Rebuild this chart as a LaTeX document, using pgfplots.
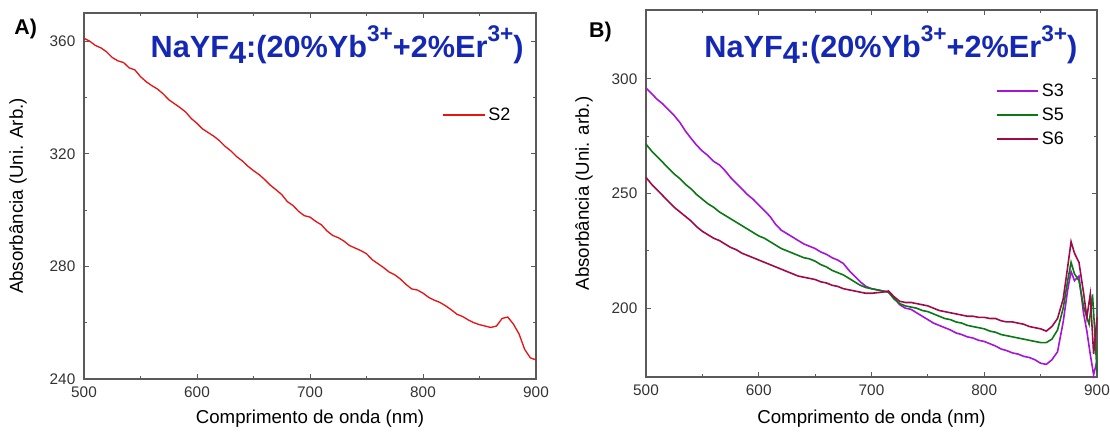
\documentclass[border=0pt]{standalone}
\usepackage{fontspec}
\setmainfont{Liberation Sans}
\usepackage{pgfplots}
\pgfplotsset{compat=1.18}
\usepackage{pgfplotstable}
\definecolor{cS2}{RGB}{230,20,20}
\definecolor{cS3}{RGB}{165,20,215}
\definecolor{cS5}{RGB}{10,120,20}
\definecolor{cS6}{RGB}{160,10,75}
\definecolor{ttl}{RGB}{20,40,180}
\definecolor{axgray}{RGB}{90,90,90}
\newcommand{\ttltext}{\fontsize{23}{26}\selectfont\bfseries NaYF\raisebox{-0.22em}{4}:(20\%Yb\raisebox{0.5em}{\fontsize{17}{17}\selectfont 3+}+2\%Er\raisebox{0.5em}{\fontsize{17}{17}\selectfont 3+})}

\pgfplotstableread{
x y
500 361.0
505 360.0
510 358.5
515 357.6
520 356.2
525 354.2
530 353.0
535 352.4
540 350.5
545 349.8
550 347.4
555 345.6
560 344.2
565 343.0
570 341.3
575 339.2
580 337.8
585 336.4
590 334.8
595 332.5
600 330.8
605 328.8
610 327.5
615 326.2
620 324.6
625 322.6
630 321.0
635 319.0
640 317.5
645 315.6
650 314.0
655 312.6
660 310.8
665 308.8
670 307.2
675 305.5
680 303.0
685 301.6
690 299.5
695 298.0
700 297.5
705 296.0
710 294.8
715 292.6
720 291.0
725 290.2
730 289.0
735 287.4
740 286.5
745 285.6
750 284.5
755 282.4
760 281.0
765 279.6
770 278.0
775 277.0
780 275.5
785 273.6
790 272.0
795 271.6
800 270.5
805 269.0
810 268.0
815 267.2
820 266.0
825 264.6
830 263.0
835 262.2
840 261.0
845 260.0
850 259.3
855 258.8
860 258.3
865 258.8
870 261.5
875 262.0
880 259.5
885 256.0
890 250.5
895 247.5
900 246.8
}\dataSII

\pgfplotstableread{
x y
500 296
505 293.5
510 291
515 289
520 286.5
525 284
530 281
535 277.2
540 274
545 271
550 268.5
555 266.5
560 264
565 262.5
570 260
575 257
580 254.5
585 252
590 249.5
595 247.5
600 245
605 242.5
610 240
615 236.5
620 234
625 232.5
630 231
635 229.5
640 228
645 227
650 226
655 224.5
660 223.5
665 222
670 221
675 219.5
680 216.5
685 214
690 211.5
695 209.5
700 208.5
705 208
710 207.5
715 207
720 204.5
725 201.5
730 200
735 199.5
740 198
745 196.5
750 195
755 193.5
760 192.5
765 191.5
770 190.5
775 189.2
780 188.5
785 187.5
790 187
795 186
800 185.5
805 184.5
810 183.5
815 182.2
820 181.5
825 180.5
830 180
835 179
840 178.5
845 177.5
850 176
855 175.5
860 177.5
865 181
870 194
874 208
877 216
880 212
884 214
888 198
891 190
894 180
897 171
900 177
}\dataSIII

\pgfplotstableread{
x y
500 271.5
505 268.5
510 266
515 263.5
520 261
525 258.5
530 256.5
535 254
540 252
545 249.5
550 247.5
555 245.5
560 244
565 242
570 240.5
575 239
580 237.5
585 236
590 234.5
595 233
600 231.5
605 230.5
610 229
615 227.5
620 226
625 225
630 224
635 223
640 222
645 221.5
650 220.5
655 219
660 218
665 216.5
670 215.5
675 214.5
680 213
685 211.5
690 210
695 209
700 208.5
710 207.5
715 207
720 204
725 202
730 201
735 200.5
740 200
745 199
750 198.5
755 197.5
760 196.5
765 195.5
770 195
775 194
780 193.5
785 192.5
790 192
795 191.5
800 191
805 190
810 189.5
815 188.5
820 188
825 187.5
830 187
835 186.5
840 186
845 185.5
850 185
855 185
860 186.5
865 190.5
870 200
874 212
877 220
880 215
884 212
888 201
891 196
893 193
896 206
898 190
900 172
}\dataSV

\pgfplotstableread{
x y
500 257
505 254
510 251.5
515 249
520 246.5
525 244
530 242
535 240
540 238
545 235.5
550 233.5
555 232
560 230.5
565 229.5
570 228
575 226.5
580 225.5
585 224
590 223
595 222
600 221
605 220
610 219
615 218
620 217
625 216
630 215
635 214
640 213.5
645 213
650 212.5
655 211.5
660 211
665 210
670 209.5
675 208.5
680 208
685 207.5
690 207
695 206.5
700 206.5
710 207
715 207.5
720 205
725 203
730 202.5
735 202.5
740 202
745 201.5
750 201
755 200
760 199
765 198.5
770 198
775 197.5
780 197
785 196.5
790 196.5
795 196
800 196
805 195.5
810 195.5
815 194.5
820 194
825 194
830 193.5
835 193
840 192
845 191.5
850 191
855 190
860 192
865 195.5
870 204
874 218
877 229
880 224
884 220
888 207
891 196
894 206
897 180
900 196
}\dataSVI

\pgfplotsset{
  legend image code/.code={\draw[#1] (0cm,0cm) -- (1.1cm,0cm);},
  panel/.style={
    scale only axis,
    clip=false,
    axis line style={axgray, line width=0.8pt},
    tick style={axgray, line width=0.6pt},
    major tick length=4pt,
    minor tick length=2.5pt,
    tick align=inside,
    xmin=500, xmax=900,
    xtick={500,600,700,800,900},
    minor x tick num=1,
    minor y tick num=1,
    ticklabel style={font=\fontsize{11.5}{13}\selectfont, text=black!80},
    xticklabel style={yshift=-2.5pt},
    yticklabel style={xshift=-3pt},
    /pgf/number format/assume math mode=true,
    label style={font=\fontsize{14}{16}\selectfont, inner sep=0pt},
    xlabel={Comprimento de onda (nm)},
    legend style={draw=none, fill=none, font=\fontsize{13.5}{15}\selectfont, row sep=3pt, inner sep=1pt},
    legend cell align=left,
  }
}

\begin{document}
\begin{tikzpicture}
\useasboundingbox (0,0) rectangle (832.5pt,324pt);
\begin{axis}[panel,
  at={(63pt,39.75pt)}, anchor=south west,
  width=339pt, height=274.5pt,
  ymin=240, ymax=370,
  ytick={240,280,320,360},
  ylabel={Absorbância (Uni. Arb.)},
  ylabel style={at={(axis description cs:-0.126,0.5)}},
  xlabel style={at={(axis description cs:0.5,-0.085)}},
  legend style={at={(0.79,0.721)}, anchor=west},
]
\addplot[color=cS2, line width=1pt] table[x=x,y=y] {\dataSII};
\addlegendentry{S2}
\node[ttl, anchor=center] at (axis description cs:0.56,0.913) {\ttltext};
\node[anchor=center, font=\fontsize{16}{18}\selectfont\bfseries] at (axis description cs:-0.129,0.956) {A)};
\end{axis}

\begin{axis}[panel,
  at={(484.5pt,41.25pt)}, anchor=south west,
  width=338.25pt, height=275.25pt,
  ymin=170, ymax=330,
  ytick={200,250,300},
  ylabel={Absorbância (Uni. arb.)},
  ylabel style={at={(axis description cs:-0.1175,0.5)}},
  xlabel style={at={(axis description cs:0.5,-0.09)}},
  legend style={at={(0.772,0.714)}, anchor=west},
]
\addplot[color=cS3, line width=1.2pt] table[x=x,y=y] {\dataSIII};
\addlegendentry{S3}
\addplot[color=cS5, line width=1.2pt] table[x=x,y=y] {\dataSV};
\addlegendentry{S5}
\addplot[color=cS6, line width=1.2pt] table[x=x,y=y] {\dataSVI};
\addlegendentry{S6}
\node[ttl, anchor=center] at (axis description cs:0.543,0.905) {\ttltext};
\node[anchor=center, font=\fontsize{16}{18}\selectfont\bfseries] at (axis description cs:-0.101,0.94) {B)};
\end{axis}
\end{tikzpicture}
\end{document}
